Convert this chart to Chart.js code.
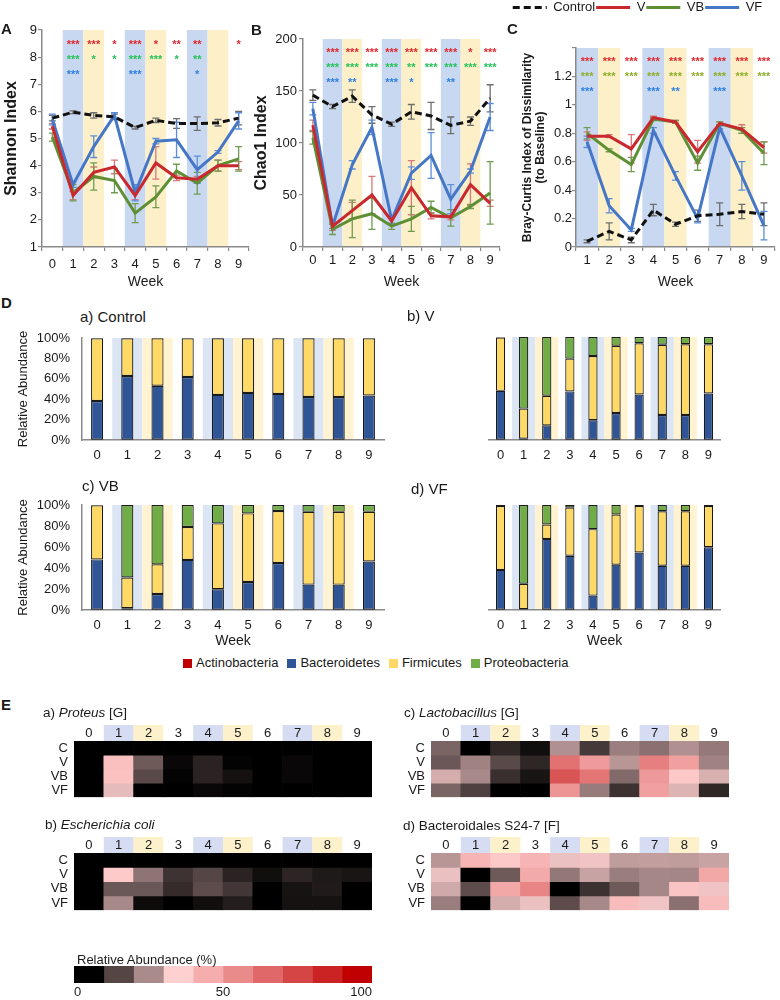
<!DOCTYPE html>
<html>
<head>
<meta charset="utf-8">
<script src="https://cdn.jsdelivr.net/npm/chart.js@4.4.1/dist/chart.umd.min.js"></script>
<style>
  body { margin: 0; width: 780px; height: 1000px; position: relative; overflow: hidden; background: #fff;
    font-family: "Liberation Sans", Arial, Helvetica, sans-serif; color: #1a1a1a; }
  canvas { position: absolute; }
  .txt { position: absolute; white-space: nowrap; z-index: 2; line-height: 16px; }
  .panel { font-weight: bold; font-size: 15px; }
  .sub { font-size: 15px; }
  .hm { font-size: 13.5px; }
  #phyla { position: absolute; left: 183px; top: 655px; display: flex; gap: 9px; font-size: 13px; line-height: 16px; z-index: 2; }
  #phyla span { display: flex; align-items: center; }
  #phyla i { display: inline-block; width: 9px; height: 9px; margin-right: 4px; }
</style>
</head>
<body>
<div class="txt panel" style="left:1px;top:21px">A</div>
<div class="txt panel" style="left:251px;top:22px">B</div>
<div class="txt panel" style="left:507px;top:21px">C</div>
<div class="txt panel" style="left:1px;top:295px">D</div>
<div class="txt panel" style="left:1px;top:697px">E</div>

<div class="txt sub" style="left:80px;top:309px">a) Control</div>
<div class="txt sub" style="left:407px;top:308px">b) V</div>
<div class="txt sub" style="left:82px;top:478px">c) VB</div>
<div class="txt sub" style="left:411px;top:481px">d) VF</div>
<div id="phyla"></div>

<div class="txt hm" style="left:43px;top:705px">a) <i>Proteus</i> [G]</div>
<div class="txt hm" style="left:404px;top:705px">c) <i>Lactobacillus</i> [G]</div>
<div class="txt hm" style="left:45px;top:817px">b) <i>Escherichia coli</i></div>
<div class="txt hm" style="left:403px;top:818px">d) Bacteroidales S24-7 [F]</div>
<div class="txt" style="left:77px;top:952px;font-size:13px">Relative Abundance (%)</div>

<script>
// ---- data ----
const weeks = ['0', '1', '2', '3', '4', '5', '6', '7', '8', '9'];
const weeksBC = ['1', '2', '3', '4', '5', '6', '7', '8', '9'];
const blueWeeks = ['1', '4', '7'];
const yellowWeeks = ['2', '5', '8'];
const groups = ['C', 'V', 'VB', 'VF'];

// A: Shannon index
const shannonControl = [5.75, 5.97, 5.85, 5.8, 5.4, 5.67, 5.55, 5.55, 5.58, 5.75];
const shannonControlErr = [0.1, 0.05, 0.1, 0.1, 0.05, 0.08, 0.18, 0.25, 0.12, 0.25];
const shannonV = [5.45, 2.9, 3.75, 3.95, 2.9, 4.1, 3.55, 3.5, 4.0, 4.0];
const shannonVErr = [0.1, 0.15, 0.2, 0.25, 0.15, 0.6, 0.1, 0.1, 0.2, 0.15];
const shannonVB = [5.05, 3.0, 3.6, 3.45, 2.25, 2.85, 3.8, 3.35, 4.0, 4.25];
const shannonVBErr = [0.15, 0.3, 0.5, 0.45, 0.35, 0.4, 0.25, 0.4, 0.2, 0.45];
const shannonVF = [5.7, 3.3, 4.7, 5.85, 3.0, 4.9, 4.95, 3.85, 4.5, 5.65];
const shannonVFErr = [0.2, 0.1, 0.4, 0.1, 0.3, 0.1, 0.65, 0.5, 0.05, 0.3];
const shannonStarsV = ['', '***', '***', '*', '***', '*', '**', '**', '', '*'];
const shannonStarsVB = ['', '***', '*', '*', '***', '***', '*', '**', '', ''];
const shannonStarsVF = ['', '***', '', '', '***', '', '', '*', '', ''];

// B: Chao1 index
const chaoControl = [146, 135, 145, 127, 118, 130, 126, 117, 121, 143];
const chaoControlErr = [5, 2, 6, 8, 2, 7, 13, 8, 4, 13];
const chaoV = [117, 20, 35, 50, 25, 57, 30, 29, 60, 42];
const chaoVErr = [5, 4, 8, 18, 4, 26, 3, 3, 20, 3];
const chaoVB = [105, 17, 27, 32, 20, 27, 38, 28, 39, 52];
const chaoVBErr = [6, 5, 18, 15, 3, 12, 6, 8, 2, 30];
const chaoVF = [133, 20, 79, 115, 26, 71, 88, 46, 73, 125];
const chaoVFErr = [6, 2, 4, 7, 4, 6, 22, 14, 2, 13];
const chaoStarsV = ['', '***', '***', '***', '***', '***', '***', '***', '*', '***'];
const chaoStarsVB = ['', '***', '***', '***', '***', '**', '***', '***', '***', '***'];
const chaoStarsVF = ['', '***', '**', '', '***', '*', '', '**', '', ''];

// C: Bray-Curtis dissimilarity to baseline (weeks 1-9)
const bcControl = [0.04, 0.11, 0.05, 0.26, 0.16, 0.22, 0.23, 0.25, 0.23];
const bcControlErr = [0.01, 0.06, 0.02, 0.04, 0.015, 0.04, 0.08, 0.05, 0.08];
const bcV = [0.78, 0.78, 0.69, 0.91, 0.88, 0.67, 0.87, 0.83, 0.70];
const bcVErr = [0.03, 0.01, 0.1, 0.01, 0.01, 0.08, 0.01, 0.03, 0.04];
const bcVB = [0.80, 0.68, 0.58, 0.90, 0.88, 0.59, 0.87, 0.82, 0.66];
const bcVBErr = [0.04, 0.01, 0.05, 0.01, 0.01, 0.05, 0.01, 0.02, 0.08];
const bcVF = [0.74, 0.29, 0.12, 0.82, 0.50, 0.20, 0.84, 0.50, 0.15];
const bcVFErr = [0.04, 0.05, 0.01, 0.02, 0.03, 0.03, 0.01, 0.1, 0.1];
const bcStarsV = ['***', '***', '***', '***', '***', '***', '***', '***', '***'];
const bcStarsVB = ['***', '***', '***', '***', '***', '***', '***', '***', '***'];
const bcStarsVF = ['***', '', '', '***', '**', '', '***', '', ''];

// D: phylum relative abundance (%)
const phyla = ['Actinobacteria', 'Bacteroidetes', 'Firmicutes', 'Proteobacteria'];
const ctrlActino = [0.2, 0.2, 0.2, 0.2, 0.2, 0.2, 0.2, 0.2, 0.2, 0.2];
const ctrlBactero = [38, 62.5, 53, 61.5, 44, 46, 45, 42, 42, 43.5];
const ctrlFirmi = [61.5, 37, 46.5, 38, 55.5, 53.5, 54.5, 57.5, 57.5, 56];
const ctrlProteo = [0.3, 0.3, 0.3, 0.3, 0.3, 0.3, 0.3, 0.3, 0.3, 0.3];
const vActino = [0.2, 0.2, 0.2, 0.2, 0.2, 0.2, 0.2, 0.2, 0.2, 0.2];
const vBactero = [47.5, 1, 14, 47, 19, 26, 44, 24, 24, 45];
const vFirmi = [51.8, 29.3, 28.8, 31.8, 62.3, 65.3, 49.8, 68.3, 68.8, 47.8];
const vProteo = [0.5, 69.5, 57, 21, 18.5, 8.5, 6, 7.5, 7, 7];
const vbActino = [0.2, 0.2, 0.2, 0.2, 0.2, 0.2, 0.2, 0.2, 0.2, 0.2];
const vbBactero = [48, 1.5, 15, 47.5, 19.5, 26.5, 44.5, 24, 24, 46];
const vbFirmi = [51.5, 29.3, 28.3, 31.3, 62.8, 65.3, 49.6, 69.3, 69.3, 47.3];
const vbProteo = [0.3, 69, 56.5, 21, 17.5, 8, 5.7, 6.5, 6.5, 6.5];
const vfActino = [0.2, 0.2, 0.2, 0.2, 0.2, 0.2, 0.2, 0.2, 0.2, 0.2];
const vfBactero = [38, 0.5, 67.5, 51.5, 13.5, 43, 54.5, 42, 42, 59.5];
const vfFirmi = [60.8, 24.3, 13.8, 45.8, 63.3, 47.8, 44.3, 51.8, 51.8, 39.3];
const vfProteo = [1, 75, 18.5, 2.5, 23, 9, 1, 6, 6, 1];

// E: taxa heatmaps, relative abundance (%) per group and week
const proteusC = [0, 0, 0, 0, 0, 0, 0, 0, 0, 0];
const proteusV = [0, 40, 18, 6, 10, 5.5, 0, 6, 0, 0];
const proteusVB = [0, 39, 15.5, 5.5, 10, 7.5, 0, 6, 0, 0];
const proteusVF = [0, 32, 0, 0, 6, 5.5, 0, 0, 0, 0];
const ecoliC = [0, 0, 0, 0, 0, 0, 0, 0, 0, 0];
const ecoliV = [0, 37, 21.7, 12.3, 15, 10, 7, 10.3, 8.7, 8];
const ecoliVB = [0, 17.5, 17.5, 11.2, 16, 12.8, 0, 7.8, 8.8, 0];
const ecoliVF = [0, 24.8, 6.6, 5, 7, 9.2, 0, 7.6, 7.6, 0];
const lactoC = [19.4, 3, 10.5, 7, 25.7, 13.2, 23.2, 21.2, 25.7, 22.5];
const lactoV = [17.6, 23.8, 15.6, 10.5, 62.4, 50.3, 26.6, 58.4, 48.8, 23.8];
const lactoVB = [30, 24.8, 11.8, 8, 70.8, 61.3, 20.3, 51, 37.3, 30.4];
const lactoVF = [19.4, 14.2, 3, 3, 52.3, 22.9, 12.2, 48.8, 30.9, 10.5];
const s247C = [26.6, 43, 37.3, 43, 32.8, 33.2, 27.6, 27.8, 27.6, 28.5];
const s247V = [32.7, 2, 18, 46, 22.3, 28.5, 23.1, 24.4, 24.3, 46.5];
const s247VB = [29.5, 16, 46.5, 56.6, 2, 12.2, 18, 24.5, 38.5, 33.2];
const s247VF = [23.1, 2, 30, 32.8, 16, 24.8, 40.8, 33.2, 21.2, 40.8];

const scaleBins = [0, 10, 20, 30, 40, 50, 60, 70, 80, 90];
const scaleTicks = [0, 50, 100];

// ---- styles ----
const fontFamily = "'Liberation Sans', Arial, Helvetica, sans-serif";
const axisGray = '#8a8a8a';
const controlColor = '#111111', vColor = '#c8282e', vbColor = '#5e8f35', vfColor = '#4677c6';
const phylaColors = ['#c00000', '#2f5597', '#ffd966', '#70ad47'];
const heatStops = [[5, [0, 0, 0]], [35, [255, 208, 208]], [95, [192, 0, 0]]];

Chart.defaults.font.family = fontFamily;
Chart.defaults.color = '#1a1a1a';
Chart.defaults.animation = false;
Chart.defaults.plugins.tooltip.enabled = false;
Chart.defaults.plugins.legend.display = false;

function heatColor(v) {
	const rgb = c => 'rgb(' + c.map(Math.round).join(',') + ')';
	if (v <= heatStops[0][0]) return rgb(heatStops[0][1]);
	for (let i = 1; i < heatStops.length; i++) {
		const [v0, c0] = heatStops[i - 1], [v1, c1] = heatStops[i];
		if (v <= v1) {
			const t = (v - v0) / (v1 - v0);
			return rgb(c0.map((c, k) => c + (c1[k] - c) * t));
		}
	}
	return rgb(heatStops[heatStops.length - 1][1]);
}

// shaded week columns (or header boxes above the plot for heatmaps)
Chart.register({
	id: 'bands',
	beforeDraw(chart, args, opts) {
		if (!opts.blue) return;
		const { ctx, chartArea: a, scales: { x } } = chart;
		const half = (x.getPixelForValue(1) - x.getPixelForValue(0)) / 2;
		const top = opts.header ? a.top - opts.header : a.top;
		const bottom = opts.header ? a.top : a.bottom;
		ctx.save();
		[[opts.blue, opts.blueColor], [opts.yellow, opts.yellowColor]].forEach(([list, color]) => {
			ctx.fillStyle = color;
			list.forEach(w => {
				const i = x.getLabels().indexOf(w);
				if (i < 0) return;
				const cx = x.getPixelForValue(i);
				ctx.fillRect(cx - half, top, half * 2, bottom - top);
			});
		});
		ctx.restore();
	}
});

Chart.register({
	id: 'errorBars',
	beforeDatasetsDraw(chart) {
		const { ctx, scales: { x, y } } = chart;
		chart.data.datasets.forEach(ds => {
			if (!ds.errors) return;
			ctx.save();
			ctx.strokeStyle = ds.errorColor;
			ctx.lineWidth = 1.3;
			ds.data.forEach((v, i) => {
				const px = x.getPixelForValue(i);
				const lo = y.getPixelForValue(v - ds.errors[i]), hi = y.getPixelForValue(v + ds.errors[i]);
				ctx.beginPath();
				ctx.moveTo(px, lo); ctx.lineTo(px, hi);
				ctx.moveTo(px - 3.5, lo); ctx.lineTo(px + 3.5, lo);
				ctx.moveTo(px - 3.5, hi); ctx.lineTo(px + 3.5, hi);
				ctx.stroke();
			});
			ctx.restore();
		});
	}
});

Chart.register({
	id: 'stars',
	afterDatasetsDraw(chart, args, opts) {
		if (!opts.rows) return;
		const { ctx, scales: { x, y } } = chart;
		ctx.save();
		ctx.font = 'bold 11px ' + fontFamily;
		ctx.textAlign = 'center';
		ctx.textBaseline = 'middle';
		opts.rows.forEach(r => {
			ctx.fillStyle = r.color;
			r.marks.forEach((m, i) => {
				if (m) ctx.fillText(m, x.getPixelForValue(i), y.getPixelForValue(r.at) + 3);
			});
		});
		ctx.restore();
	}
});

function canvasAt(left, top, width, height) {
	const c = document.createElement('canvas');
	c.width = width; c.height = height;
	c.style.left = left + 'px'; c.style.top = top + 'px';
	c.style.width = width + 'px'; c.style.height = height + 'px';
	document.body.appendChild(c);
	return c;
}

function lineSet(label, data, errors, color, errorColor, dash) {
	return {
		label, data, errors, errorColor,
		borderColor: color, backgroundColor: color, borderWidth: 3, borderDash: dash || [],
		pointRadius: 0, tension: 0
	};
}

// legend entries carry the dataset dash pattern
function dashedLabels(chart) {
	return Chart.defaults.plugins.legend.labels.generateLabels(chart).map(item =>
		Object.assign(item, { lineDash: chart.data.datasets[item.datasetIndex].borderDash }));
}

function trendChart(box, cfg) {
	return new Chart(canvasAt(...box), {
		type: 'line',
		data: { labels: cfg.labels, datasets: cfg.datasets },
		options: {
			responsive: false,
			layout: { padding: cfg.padding },
			scales: {
				x: {
					type: 'category', offset: true,
					grid: { offset: true, drawOnChartArea: false, tickLength: 4, color: axisGray, lineWidth: 1.2 },
					border: { color: axisGray, width: 1.5 },
					ticks: { font: { size: 13 }, padding: cfg.xPad, maxRotation: 0, autoSkip: false },
					title: { display: true, text: 'Week', font: { size: 14 }, padding: { top: 0, bottom: 1 } },
					afterFit: s => { s.height = 45; }
				},
				y: {
					min: cfg.yMin, max: cfg.yMax,
					ticks: { stepSize: cfg.yStep, font: { size: 13 }, padding: cfg.yPad, callback: cfg.yFormat, autoSkip: false },
					grid: { drawOnChartArea: false, tickLength: 4, color: axisGray, lineWidth: 1.2 },
					border: { color: axisGray, width: 1.5 },
					title: {
						display: true, text: cfg.yTitle,
						font: { size: cfg.yTitleSize, weight: 'bold', lineHeight: cfg.yTitleLine },
						padding: { top: cfg.yTitlePad, bottom: 0 }
					},
					afterFit: s => { s.width = cfg.yWidth; }
				}
			},
			plugins: {
				bands: { blue: blueWeeks, yellow: yellowWeeks, blueColor: '#c8d8f0', yellowColor: '#fdf0c8' },
				stars: { rows: cfg.stars },
				legend: cfg.legend || { display: false },
				title: cfg.spacer || { display: false }
			}
		}
	});
}

// ---- A ----
trendChart([0, 20, 255, 272], {
	labels: weeks,
	datasets: [
		lineSet('Control', shannonControl, shannonControlErr, controlColor, '#6e6e6e', [7, 4]),
		lineSet('V', shannonV, shannonVErr, vColor, '#d9777a'),
		lineSet('VB', shannonVB, shannonVBErr, vbColor, '#6f9c50'),
		lineSet('VF', shannonVF, shannonVFErr, vfColor, '#5b8ed8')
	],
	padding: { top: 10, right: 6, left: 0, bottom: 0 },
	xPad: 6, yMin: 1, yMax: 9, yStep: 1, yPad: 1, yFormat: v => v,
	yTitle: 'Shannon Index', yTitleSize: 16, yTitleLine: 1.2, yTitlePad: 2, yWidth: 42,
	stars: [
		{ at: 8.55, color: '#e0282e', marks: shannonStarsV },
		{ at: 8.0, color: '#27c25a', marks: shannonStarsVB },
		{ at: 7.45, color: '#2f80e0', marks: shannonStarsVF }
	]
});

// ---- B ----
trendChart([250, 20, 255, 272], {
	labels: weeks,
	datasets: [
		lineSet('Control', chaoControl, chaoControlErr, controlColor, '#6e6e6e', [7, 4]),
		lineSet('V', chaoV, chaoVErr, vColor, '#d9777a'),
		lineSet('VB', chaoVB, chaoVBErr, vbColor, '#6f9c50'),
		lineSet('VF', chaoVF, chaoVFErr, vfColor, '#5b8ed8')
	],
	padding: { top: 19, right: 5, left: 0, bottom: 0 },
	xPad: 2, yMin: 0, yMax: 200, yStep: 50, yPad: 2, yFormat: v => v,
	yTitle: 'Chao1 Index', yTitleSize: 16, yTitleLine: 1.2, yTitlePad: 2, yWidth: 53,
	stars: [
		{ at: 189, color: '#e0282e', marks: chaoStarsV },
		{ at: 175, color: '#27c25a', marks: chaoStarsVB },
		{ at: 161, color: '#2f80e0', marks: chaoStarsVF }
	]
});

// ---- C ----
trendChart([500, 0, 280, 292], {
	labels: weeksBC,
	datasets: [
		lineSet('Control', bcControl, bcControlErr, controlColor, '#6e6e6e', [7, 4]),
		lineSet('V', bcV, bcVErr, vColor, '#d9777a'),
		lineSet('VB', bcVB, bcVBErr, vbColor, '#6f9c50'),
		lineSet('VF', bcVF, bcVFErr, vfColor, '#5b8ed8')
	],
	padding: { top: 0, right: 5, left: 0, bottom: 0 },
	xPad: 2, yMin: 0, yMax: 1.4, yStep: 0.2, yPad: 0,
	yFormat: v => (v > 1.3 ? '' : String(Math.round(v * 10) / 10)),
	yTitle: ['Bray-Curtis Index of Dissimilarity', '(to Baseline)'], yTitleSize: 12, yTitleLine: 1.08,
	yTitlePad: 21, yWidth: 76,
	stars: [
		{ at: 1.32, color: '#e0282e', marks: bcStarsV },
		{ at: 1.22, color: '#8fae2c', marks: bcStarsVB },
		{ at: 1.11, color: '#2f80e0', marks: bcStarsVF }
	],
	legend: {
		display: true, position: 'top', weight: 3000,
		labels: {
			usePointStyle: true, pointStyle: 'line', pointStyleWidth: 34, font: { size: 13 }, padding: 1,
			color: '#1a1a1a', generateLabels: dashedLabels
		}
	},
	spacer: { display: true, text: '', font: { size: 1, lineHeight: 1 }, padding: { top: 0, bottom: 23 } }
});

// ---- D ----
document.getElementById('phyla').innerHTML = phyla.map((p, i) =>
	'<span><i style="background:' + phylaColors[i] + '"></i>' + p + '</span>').join('');

function abundanceChart(box, series, cfg) {
	return new Chart(canvasAt(...box), {
		type: 'bar',
		data: {
			labels: weeks,
			datasets: series.map((data, i) => ({
				label: phyla[i], data, backgroundColor: phylaColors[i],
				borderColor: '#1a1a1a', borderWidth: 1.2, borderSkipped: false,
				barPercentage: 0.4, categoryPercentage: 1
			}))
		},
		options: {
			responsive: false,
			layout: { padding: cfg.padding },
			scales: {
				x: {
					stacked: true,
					grid: { display: false, drawTicks: false },
					border: { color: axisGray, width: 1.5 },
					ticks: { font: { size: 13 }, padding: 8, maxRotation: 0 },
					title: { display: cfg.week, text: 'Week', font: { size: 14 }, padding: { top: 0, bottom: 1 } },
					afterFit: s => { s.height = cfg.xHeight; }
				},
				y: {
					display: cfg.yAxis, stacked: true, min: 0, max: 100,
					ticks: { stepSize: 20, font: { size: 13 }, padding: 0, autoSkip: false, callback: v => v + '%' },
					grid: { display: true, drawOnChartArea: false, drawTicks: true, tickLength: 12, color: 'rgba(0,0,0,0)' },
					border: { color: axisGray, width: 1.5 },
					title: { display: true, text: 'Relative Abundance', font: { size: 13 }, padding: { top: 16, bottom: 0 } },
					afterFit: s => { s.width = 82; }
				}
			},
			plugins: {
				bands: { blue: blueWeeks, yellow: yellowWeeks, blueColor: '#dce5f4', yellowColor: '#fff3d2' }
			}
		}
	});
}

abundanceChart([0, 330, 390, 150], [ctrlActino, ctrlBactero, ctrlFirmi, ctrlProteo],
	{ padding: { top: 8, right: 6 }, xHeight: 40, week: false, yAxis: true });
abundanceChart([390, 330, 390, 150], [vActino, vBactero, vFirmi, vProteo],
	{ padding: { top: 7, right: 60, left: 17 }, xHeight: 40, week: false, yAxis: false });
abundanceChart([0, 497, 390, 154], [vbActino, vbBactero, vbFirmi, vbProteo],
	{ padding: { top: 8, right: 6 }, xHeight: 41, week: true, yAxis: true });
abundanceChart([390, 497, 390, 154], [vfActino, vfBactero, vfFirmi, vfProteo],
	{ padding: { top: 8, right: 60, left: 17 }, xHeight: 41, week: true, yAxis: false });

// ---- E ----
function heatmap(box, rows, yWidth, padRight) {
	return new Chart(canvasAt(...box), {
		type: 'bar',
		data: {
			labels: weeks,
			datasets: rows.map((vals, r) => ({
				label: groups[r],
				data: vals.map(() => [r, r + 1]),
				backgroundColor: vals.map(heatColor),
				borderWidth: 0, grouped: false, barPercentage: 1, categoryPercentage: 1
			}))
		},
		options: {
			responsive: false,
			layout: { padding: { top: 0, right: padRight, left: 0, bottom: 3 } },
			scales: {
				x: {
					position: 'top',
					grid: { display: false, drawTicks: false },
					border: { display: false },
					ticks: { font: { size: 13 }, padding: 0, maxRotation: 0 },
					afterFit: s => { s.height = 26; }
				},
				y: {
					min: 0, max: 4, reverse: true,
					afterBuildTicks: s => { s.ticks = [0.5, 1.5, 2.5, 3.5].map(value => ({ value })); },
					ticks: { font: { size: 13 }, padding: 6, callback: (v, i) => groups[i] },
					grid: { display: false, drawTicks: false },
					border: { display: false },
					afterFit: s => { s.width = yWidth; }
				}
			},
			plugins: {
				bands: { blue: blueWeeks, yellow: yellowWeeks, blueColor: '#d6ddf2', yellowColor: '#fdf1cc', header: 16 }
			}
		}
	});
}

heatmap([0, 715, 390, 96], [proteusC, proteusV, proteusVB, proteusVF], 74, 18);
heatmap([0, 827, 390, 97], [ecoliC, ecoliV, ecoliVB, ecoliVF], 74, 18);
heatmap([390, 715, 390, 96], [lactoC, lactoV, lactoVB, lactoVF], 41, 51);
heatmap([390, 827, 390, 97], [s247C, s247V, s247VB, s247VF], 41, 51);

// colour scale
new Chart(canvasAt(0, 962, 390, 38), {
	type: 'bar',
	data: {
		labels: [''],
		datasets: scaleBins.map(b => ({
			data: [10], backgroundColor: heatColor(b + 5), borderWidth: 0, barPercentage: 1, categoryPercentage: 1
		}))
	},
	options: {
		indexAxis: 'y',
		responsive: false,
		layout: { padding: { top: 4, left: 74, right: 18, bottom: 0 } },
		scales: {
			x: {
				stacked: true, min: 0, max: 100,
				afterBuildTicks: s => { s.ticks = scaleTicks.map(value => ({ value })); },
				ticks: { font: { size: 13 }, padding: 2, align: 'inner' },
				grid: { display: false, drawTicks: false },
				border: { display: false },
				afterFit: s => { s.height = 17; }
			},
			y: { stacked: true, display: false }
		}
	}
});
</script>
</body>
</html>
